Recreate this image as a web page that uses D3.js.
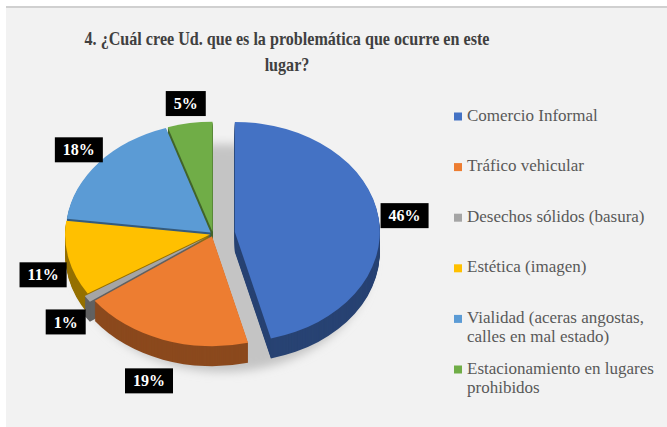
<!DOCTYPE html>
<html>
<head>
<meta charset="utf-8">
<script src="https://cdn.jsdelivr.net/npm/d3@7"></script>
<style>
    body { margin: 0; background: #ffffff; }
    svg { display: block; }
</style>
</head>
<body>
<div id="chart"></div>
<script>
const categories = [
    "Comercio Informal",
    "Tráfico vehicular",
    "Desechos sólidos (basura)",
    "Estética (imagen)",
    "Vialidad (aceras angostas, calles en mal estado)",
    "Estacionamiento en lugares prohibidos"
];
const legendLines = [
    ["Comercio Informal"],
    ["Tráfico vehicular"],
    ["Desechos sólidos (basura)"],
    ["Estética (imagen)"],
    ["Vialidad (aceras angostas,", "calles en mal estado)"],
    ["Estacionamiento en lugares", "prohibidos"]
];
const percentages = [46, 19, 1, 11, 18, 5];
const colors = ["#4472C4", "#ED7D31", "#A5A5A5", "#FFC000", "#5B9BD5", "#70AD47"];
const titleLines = ["4. ¿Cuál cree Ud. que es la problemática que ocurre en este", "lugar?"];

const data = categories.map((name, i) => ({ name, value: percentages[i], color: colors[i], lines: legendLines[i] }));

const width = 667;
const height = 427;
const serif = "'Liberation Serif', 'Times New Roman', serif";

const svg = d3.select("#chart")
    .append("svg")
    .attr("width", width)
    .attr("height", height)
    .attr("font-family", serif);

// panel
svg.append("rect")
    .attr("x", 6).attr("y", 7)
    .attr("width", width - 6).attr("height", height - 7)
    .attr("fill", "#f2f2f2");
svg.append("line")
    .attr("x1", 6).attr("x2", width)
    .attr("y1", 7).attr("y2", 7)
    .attr("stroke", "#d0d0d0")
    .attr("stroke-width", 2);

// title (squeezed a bit horizontally like the original)
svg.append("g")
    .attr("transform", "translate(287,0) scale(0.895,1)")
    .append("text")
    .attr("text-anchor", "middle")
    .attr("font-size", "18px")
    .attr("font-weight", "bold")
    .attr("fill", "#404040")
    .selectAll("tspan")
    .data(titleLines)
    .enter()
    .append("tspan")
    .attr("x", 0)
    .attr("y", (d, i) => 45 + i * 26)
    .text(d => d);

// pie geometry
const cx = 213, cy = 234, rx = 145, ry = 110, depth = 20;
const k = ry / rx;
const explodeBy = { "Comercio Informal": 22, "Desechos sólidos (basura)": 7 };

const pie = d3.pie().sort(null).value(d => d.value);
const arcs = pie(data);
const arc = d3.arc().innerRadius(0).outerRadius(rx);

const mid = d => (d.startAngle + d.endAngle) / 2;
const offset = d => {
    const e = explodeBy[d.data.name] || 3;
    return [e * Math.sin(mid(d)), -e * Math.cos(mid(d)) * k];
};

const defs = svg.append("defs");
defs.append("filter")
    .attr("id", "blur")
    .attr("x", "-20%").attr("y", "-20%")
    .attr("width", "140%").attr("height", "140%")
    .append("feGaussianBlur")
    .attr("stdDeviation", 5);

// soft shadow under the pie
svg.append("ellipse")
    .attr("cx", cx + 10)
    .attr("cy", cy + depth + 4)
    .attr("rx", rx + 4)
    .attr("ry", ry + 4)
    .attr("fill", "#c4c4c4")
    .attr("filter", "url(#blur)");

// back slices first
const order = arcs.slice().sort((a, b) => -Math.cos(mid(a)) - -Math.cos(mid(b)));

const walls = svg.append("g");
order.forEach(d => {
    const [ox, oy] = offset(d);
    const dark = d3.color(d.data.color).darker(1.5).formatHex();
    walls.selectAll(null)
        .data(d3.range(depth, 0, -1))
        .enter()
        .append("path")
        .attr("d", arc(d))
        .attr("fill", dark)
        .attr("transform", s => `translate(${cx + ox},${cy + oy + s}) scale(1,${k})`);
});

const tops = svg.append("g");
order.forEach(d => {
    const [ox, oy] = offset(d);
    tops.append("path")
        .attr("d", arc(d))
        .attr("fill", d.data.color)
        .attr("transform", `translate(${cx + ox},${cy + oy}) scale(1,${k})`);
});

// labels
const labels = svg.append("g")
    .attr("font-size", "16px")
    .attr("font-weight", "bold");

arcs.forEach(d => {
    const [ox, oy] = offset(d);
    const a = mid(d);
    const front = Math.max(0, -Math.cos(a));
    const f = 1.18 + 0.3 * Math.max(0, front - 0.6);
    const x = cx + ox + rx * f * Math.sin(a);
    const y = cy + oy - ry * f * Math.cos(a) + (Math.cos(a) < 0 ? depth * 0.6 : 0);
    const g = labels.append("g").attr("transform", `translate(${x},${y})`);
    const t = g.append("text")
        .attr("text-anchor", "middle")
        .attr("dy", "0.35em")
        .attr("fill", "#ffffff")
        .text(d.data.value + "%");
    const w = t.node().getComputedTextLength();
    g.insert("rect", "text")
        .attr("x", -w / 2 - 8)
        .attr("y", -12.5)
        .attr("width", w + 16)
        .attr("height", 25)
        .attr("fill", "#000000");
});

// legend
const legend = svg.append("g")
    .attr("transform", "translate(454,0)");

const items = legend.selectAll("g")
    .data(data)
    .enter()
    .append("g")
    .attr("transform", (d, i) => `translate(0,${120.5 + i * 50.6})`);

items.append("rect")
    .attr("x", 0)
    .attr("y", -8)
    .attr("width", 8)
    .attr("height", 8)
    .attr("fill", d => d.color);

items.append("text")
    .attr("font-size", "17px")
    .attr("fill", "#595959")
    .selectAll("tspan")
    .data(d => d.lines)
    .enter()
    .append("tspan")
    .attr("x", 13)
    .attr("y", (d, i) => i * 19)
    .text(d => d);
</script>
</body>
</html>
